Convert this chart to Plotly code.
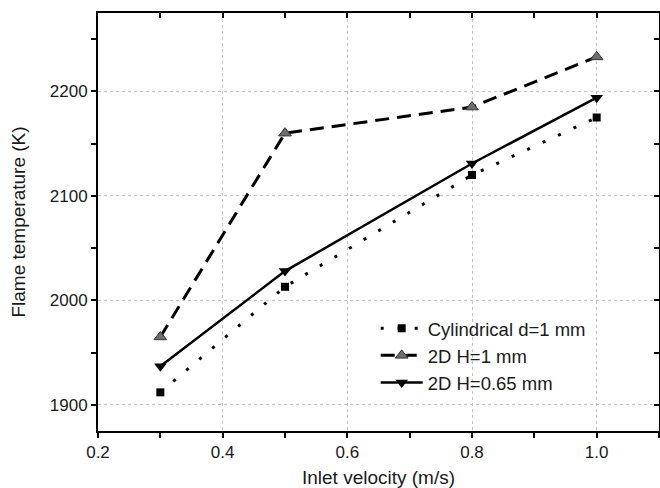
import plotly.graph_objects as go

velocity = [0.3, 0.5, 0.8, 1.0]
cyl_d1 = [1912, 2013, 2120, 2175]
h1 = [1965, 2160, 2185, 2233]
h065 = [1937, 2028, 2131, 2194]

names = ["Cylindrical d=1 mm", "2D H=1 mm", "2D H=0.65 mm"]

FONT = "Liberation Sans, Arial, sans-serif"
TXT = "#1a1a1a"

fig = go.Figure()
fig.add_trace(go.Scatter(
    x=velocity, y=cyl_d1, name=names[0], mode="lines+markers",
    line=dict(color="black", width=3, dash="3px,14px"),
    marker=dict(symbol="square", size=8, color="black")))
fig.add_trace(go.Scatter(
    x=velocity, y=h1, name=names[1], mode="lines+markers",
    line=dict(color="black", width=3, dash="14px,8px"),
    marker=dict(symbol="triangle-up", size=11, color="#6e6e6e",
                line=dict(color="#333", width=1))))
fig.add_trace(go.Scatter(
    x=velocity, y=h065, name=names[2], mode="lines+markers",
    line=dict(color="black", width=2.5),
    marker=dict(symbol="triangle-down", size=11, color="black")))
# invisible trace to anchor the mirror (top/right) axes
fig.add_trace(go.Scatter(x=velocity, y=h065, xaxis="x2", yaxis="y2",
                         mode="markers", marker=dict(opacity=0),
                         showlegend=False, hoverinfo="skip"))

xr = [0.2, 1.1]
yr = [1875, 2275]

fig.update_layout(
    width=660, height=488,
    margin=dict(l=98, r=1, t=13, b=57),
    paper_bgcolor="white", plot_bgcolor="white",
    font=dict(family=FONT, color=TXT, size=17),
    showlegend=True,
    legend=dict(x=0.495, y=0.29, xanchor="left", yanchor="top",
                bgcolor="rgba(0,0,0,0)", font=dict(size=18.5, family=FONT, color=TXT),
                tracegroupgap=0, itemwidth=42),
    xaxis=dict(range=xr, tick0=0.2, dtick=0.2, tickformat=".1f",
               showline=True, linecolor="black", linewidth=2,
               ticks="outside", ticklen=5, tickwidth=1.5, tickcolor="black",
               minor=dict(dtick=0.1, tick0=0.2, ticks="outside", ticklen=5,
                          tickwidth=1.5, tickcolor="black", showgrid=False),
               showgrid=True, gridcolor="#c4c4c4", gridwidth=1, griddash="dot",
               zeroline=False,
               title=dict(text="Inlet velocity (m/s)", font=dict(size=19), standoff=12),
               tickfont=dict(size=17)),
    yaxis=dict(range=yr, tick0=1900, dtick=100,
               showline=True, linecolor="black", linewidth=2,
               ticks="outside", ticklen=5, tickwidth=1.5, tickcolor="black",
               minor=dict(dtick=50, tick0=1900, ticks="outside", ticklen=5,
                          tickwidth=1.5, tickcolor="black", showgrid=False),
               showgrid=True, gridcolor="#c4c4c4", gridwidth=1, griddash="dot",
               zeroline=False,
               title=dict(text="Flame temperature (K)", font=dict(size=19), standoff=19),
               tickfont=dict(size=17)),
    xaxis2=dict(range=xr, overlaying="x", side="top", anchor="y2",
                tick0=0.2, dtick=0.2, showticklabels=False,
                showline=True, linecolor="black", linewidth=2,
                ticks="inside", ticklen=5, tickwidth=1.5, tickcolor="black",
                minor=dict(dtick=0.1, tick0=0.2, ticks="inside", ticklen=5,
                           tickwidth=1.5, tickcolor="black", showgrid=False),
                showgrid=False, zeroline=False),
    yaxis2=dict(range=yr, overlaying="y", side="right", anchor="x2",
                tick0=1900, dtick=100, showticklabels=False,
                showline=True, linecolor="black", linewidth=2,
                ticks="inside", ticklen=5, tickwidth=1.5, tickcolor="black",
                minor=dict(dtick=50, tick0=1900, ticks="inside", ticklen=5,
                           tickwidth=1.5, tickcolor="black", showgrid=False),
                showgrid=False, zeroline=False),
)

fig.write_html("out.html", config={"displayModeBar": False},
               post_script="document.body.style.margin='0';document.body.style.overflow='hidden';")
